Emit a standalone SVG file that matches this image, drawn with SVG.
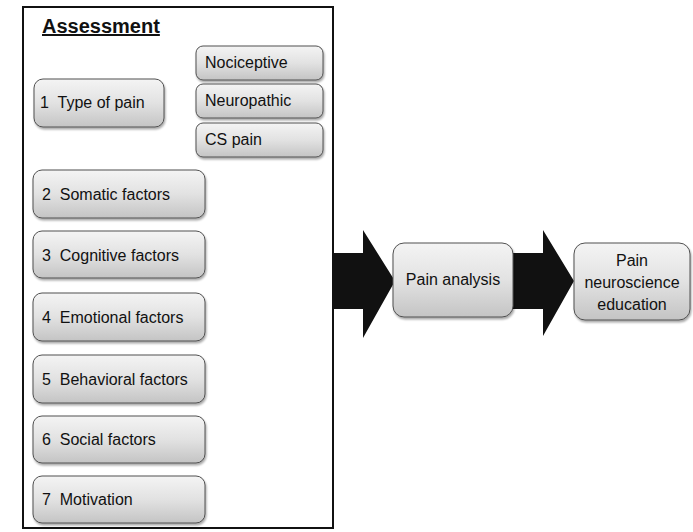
<svg xmlns="http://www.w3.org/2000/svg" width="693" height="532" viewBox="0 0 693 532">
<defs>
<linearGradient id="g" x1="0" y1="0" x2="0" y2="1">
<stop offset="0" stop-color="#f4f4f4"/>
<stop offset="0.5" stop-color="#e2e2e2"/>
<stop offset="1" stop-color="#c4c4c4"/>
</linearGradient>
<filter id="sh" x="-10%" y="-10%" width="125%" height="130%">
<feGaussianBlur in="SourceAlpha" stdDeviation="1.2"/>
<feOffset dx="1" dy="2" result="b"/>
<feComponentTransfer><feFuncA type="linear" slope="0.35"/></feComponentTransfer>
<feMerge><feMergeNode/><feMergeNode in="SourceGraphic"/></feMerge>
</filter>
</defs>
<style>
.box{fill:url(#g);stroke:#505050;stroke-width:1;filter:url(#sh)}
.t{font-family:"Liberation Sans",Arial,sans-serif;font-size:16px;fill:#111;white-space:pre}
.c{text-anchor:middle}
.arr{fill:#111}
</style>
<rect width="693" height="532" fill="#fff"/>
<g id="assessment">
<rect x="23" y="7" width="310" height="521" fill="#fff" stroke="#111" stroke-width="2"/>
<text x="42" y="33" font-family="Liberation Sans,Arial,sans-serif" font-weight="bold" font-size="20" fill="#111" text-decoration="underline">Assessment</text>
</g>
<g id="connectors">
<polygon class="arr" points="333,253 363,253 363,230 395,281 363,338 363,309 333,309"/>
<polygon class="arr" points="512,253 543,253 543,230 574,281 543,336 543,309 512,309"/>
</g>
<g id="n1"><rect class="box" x="34" y="79" width="130" height="48" rx="9"/><text class="t" x="40" y="108" xml:space="preserve">1  Type of pain</text></g>
<g id="n1a"><rect class="box" x="196" y="46" width="127" height="34" rx="7"/><text class="t" x="205" y="68">Nociceptive</text></g>
<g id="n1b"><rect class="box" x="196" y="84" width="127" height="34" rx="7"/><text class="t" x="205" y="106">Neuropathic</text></g>
<g id="n1c"><rect class="box" x="196" y="123" width="127" height="34" rx="7"/><text class="t" x="205" y="145">CS pain</text></g>
<g id="n2"><rect class="box" x="33" y="170" width="172" height="48" rx="9"/><text class="t" x="42" y="200" xml:space="preserve">2  Somatic factors</text></g>
<g id="n3"><rect class="box" x="33" y="231" width="172" height="47" rx="9"/><text class="t" x="42" y="261" xml:space="preserve">3  Cognitive factors</text></g>
<g id="n4"><rect class="box" x="33" y="293" width="172" height="48" rx="9"/><text class="t" x="42" y="323" xml:space="preserve">4  Emotional factors</text></g>
<g id="n5"><rect class="box" x="33" y="355" width="172" height="48" rx="9"/><text class="t" x="42" y="385" xml:space="preserve">5  Behavioral factors</text></g>
<g id="n6"><rect class="box" x="33" y="416" width="172" height="47" rx="9"/><text class="t" x="42" y="445" xml:space="preserve">6  Social factors</text></g>
<g id="n7"><rect class="box" x="33" y="476" width="172" height="47" rx="9"/><text class="t" x="42" y="505" xml:space="preserve">7  Motivation</text></g>
<g id="analysis"><rect class="box" x="393" y="243" width="120" height="74" rx="11"/><text class="t c" x="453" y="285">Pain analysis</text></g>
<g id="education"><rect class="box" x="574" y="243" width="116" height="77" rx="11"/><text class="t c" x="632" y="266">Pain</text><text class="t c" x="632" y="288">neuroscience</text><text class="t c" x="632" y="310">education</text></g>
</svg>
